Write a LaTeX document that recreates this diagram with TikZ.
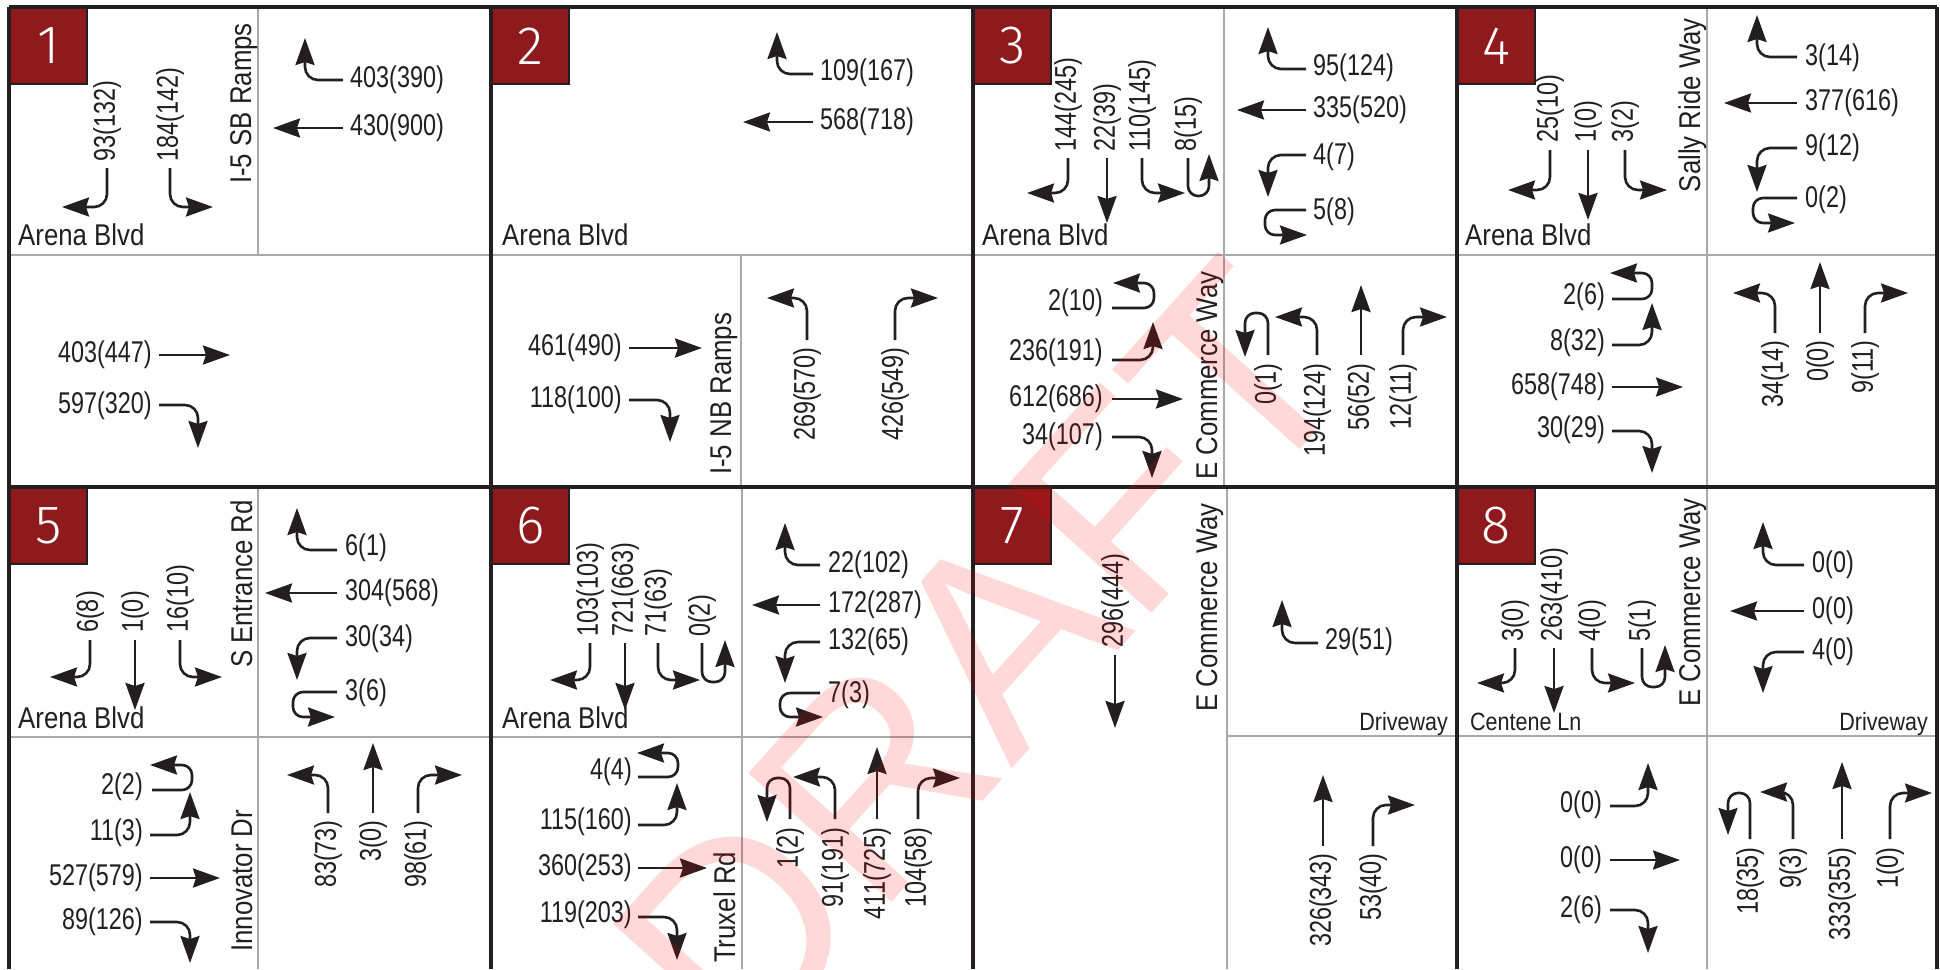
\documentclass[tikz,border=0pt]{standalone}
\usepackage{fontspec}
\usetikzlibrary{arrows.meta}
\newfontfamily\numfam[FakeStretch=0.78]{Liberation Sans}
\newfontfamily\stfam[FakeStretch=0.86]{Liberation Sans}
\newfontfamily\boxfam{Fira Sans Light}
\newfontfamily\wmfam{Liberation Sans}
\definecolor{ink}{HTML}{231F20}
\definecolor{gline}{HTML}{A7A9AC}
\definecolor{boxred}{HTML}{8F1A1D}
\tikzset{
  lbl/.style={font=\numfam\fontsize{30}{34}\selectfont, text=ink, inner sep=0pt},
  vlbl/.style={lbl, rotate=90},
  street/.style={font=\stfam\fontsize{30}{34}\selectfont, text=ink, inner sep=0pt},
  vstreet/.style={street, rotate=90},
  small/.style={font=\stfam\fontsize{25}{29}\selectfont, text=ink, inner sep=0pt},
  mv/.style={draw=ink, line width=2.6pt, rounded corners=13pt, -{Stealth[length=27pt,width=19pt,inset=3pt]}},
  uturn/.style={mv, rounded corners=10pt},
  gl/.style={draw=gline, line width=2.8pt},
  kl/.style={draw=ink, line width=3.5pt},
  numbox/.style={fill=boxred, draw=ink, line width=2pt, minimum width=77pt, minimum height=76pt, anchor=north west, font=\boxfam\fontsize{54}{58}\selectfont, text=white, inner sep=0pt},
  wm/.style={text=red, opacity=0.15, font=\wmfam\fontsize{280}{280}\selectfont, inner sep=0pt},
}
\begin{document}
\begin{tikzpicture}[x=1pt,y=-1pt]
\useasboundingbox (0,0) rectangle (1940,969);
\fill[white] (0,0) rectangle (1940,969);
% ---------- gray street lines ----------
\draw[gl] (258,7) -- (258,255);
\draw[gl] (9,255) -- (491,255);
\draw[gl] (491,255) -- (973,255);
\draw[gl] (741,255) -- (741,487);
\draw[gl] (1224,7) -- (1224,487);
\draw[gl] (973,255) -- (1457,255);
\draw[gl] (1707,7) -- (1707,487);
\draw[gl] (1457,255) -- (1937,255);
\draw[gl] (258,487) -- (258,969);
\draw[gl] (9,737) -- (491,737);
\draw[gl] (742,487) -- (742,969);
\draw[gl] (491,737) -- (973,737);
\draw[gl] (1227,487) -- (1227,969);
\draw[gl] (1227,736) -- (1457,736);
\draw[gl] (1707,487) -- (1707,969);
\draw[gl] (1457,736) -- (1937,736);
% ---------- black panel frame ----------
\draw[kl] (9,7) -- (1937,7);
\draw[kl] (9,487) -- (1937,487);
\draw[kl] (9,7) -- (9,969);
\draw[kl] (491,7) -- (491,969);
\draw[kl] (973,7) -- (973,969);
\draw[kl] (1457,7) -- (1457,969);
\draw[kl] (1937,7) -- (1937,969);
% ---------- number boxes ----------
\node[numbox] (b1) at (9,7) {1};
\node[numbox] (b2) at (491,7) {2};
\node[numbox] (b3) at (973,7) {3};
\node[numbox] (b4) at (1457,7) {4};
\node[numbox] (b5) at (9,487) {5};
\node[numbox] (b6) at (491,487) {6};
\node[numbox] (b7) at (973,487) {7};
\node[numbox] (b8) at (1457,487) {8};
% ================= PANEL 1 =================
\node[street, anchor=base west] (s1a) at (18,245) {Arena Blvd};
\node[vstreet, anchor=base east] (s1b) at (251,23) {I-5 SB Ramps};
\node[vlbl, anchor=west] (p1a) at (107,162) {93(132)};
\node[vlbl, anchor=west] (p1b) at (170,162) {184(142)};
\draw[mv] (107,168) -- (107,207) -- (62,207);
\draw[mv] (170,168) -- (170,207) -- (213,207);
\node[lbl, anchor=west] (p1c) at (350,80) {403(390)};
\node[lbl, anchor=west] (p1d) at (350,128) {430(900)};
\draw[mv] (343,80) -- (305,80) -- (305,38);
\draw[mv] (343,128) -- (273,128);
\node[lbl, anchor=east] (p1e) at (152,355) {403(447)};
\node[lbl, anchor=east] (p1f) at (152,406) {597(320)};
\draw[mv] (159,355) -- (230,355);
\draw[mv] (159,405) -- (198,405) -- (198,448);
% ================= PANEL 2 =================
\node[street, anchor=base west] (s2a) at (502,245) {Arena Blvd};
\node[vstreet, anchor=base west] (s2b) at (731,475) {I-5 NB Ramps};
\node[lbl, anchor=west] (p2a) at (820,73) {109(167)};
\node[lbl, anchor=west] (p2b) at (820,122) {568(718)};
\draw[mv] (813,74) -- (777,74) -- (777,32);
\draw[mv] (813,122) -- (743,122);
\node[lbl, anchor=east] (p2c) at (622,348) {461(490)};
\node[lbl, anchor=east] (p2d) at (622,400) {118(100)};
\draw[mv] (629,348) -- (702,348);
\draw[mv] (629,400) -- (670,400) -- (670,442);
\node[vlbl, anchor=east] (p2e) at (807,347) {269(570)};
\node[vlbl, anchor=east] (p2f) at (895,347) {426(549)};
\draw[mv] (807,340) -- (807,298) -- (767,298);
\draw[mv] (895,340) -- (895,298) -- (938,298);
% ================= PANEL 3 =================
\node[street, anchor=base west] (s3a) at (982,245) {Arena Blvd};
\node[vstreet, anchor=base west] (s3b) at (1217,480) {E Commerce Way};
\node[vlbl, anchor=west] (p3a) at (1068,152) {144(245)};
\node[vlbl, anchor=west] (p3b) at (1107,152) {22(39)};
\node[vlbl, anchor=west] (p3c) at (1142,152) {110(145)};
\node[vlbl, anchor=west] (p3d) at (1188,152) {8(15)};
\draw[mv] (1068,158) -- (1068,193) -- (1027,193);
\draw[mv] (1107,158) -- (1107,223);
\draw[mv] (1142,158) -- (1142,193) -- (1185,193);
\draw[uturn] (1188,158) -- (1188,196) -- (1209,196) -- (1209,154);
\node[lbl, anchor=west] (p3e) at (1313,68) {95(124)};
\node[lbl, anchor=west] (p3f) at (1313,110) {335(520)};
\node[lbl, anchor=west] (p3g) at (1313,157) {4(7)};
\node[lbl, anchor=west] (p3h) at (1313,212) {5(8)};
\draw[mv] (1306,69) -- (1268,69) -- (1268,27);
\draw[mv] (1306,110) -- (1237,110);
\draw[mv] (1306,155) -- (1268,155) -- (1268,197);
\draw[uturn] (1306,210) -- (1265,210) -- (1265,235) -- (1307,235);
\node[lbl, anchor=east] (p3i) at (1103,303) {2(10)};
\node[lbl, anchor=east] (p3j) at (1103,353) {236(191)};
\node[lbl, anchor=east] (p3k) at (1103,399) {612(686)};
\node[lbl, anchor=east] (p3l) at (1103,437) {34(107)};
\draw[uturn] (1112,308) -- (1154,308) -- (1154,283) -- (1113,283);
\draw[mv] (1112,360) -- (1153,360) -- (1153,322);
\draw[mv] (1112,399) -- (1183,399);
\draw[mv] (1112,437) -- (1152,437) -- (1152,478);
\node[vlbl, anchor=east] (p3m) at (1268,363) {0(1)};
\node[vlbl, anchor=east] (p3n) at (1317,363) {194(124)};
\node[vlbl, anchor=east] (p3o) at (1361,363) {56(52)};
\node[vlbl, anchor=east] (p3p) at (1403,363) {12(11)};
\draw[uturn] (1268,355) -- (1268,313) -- (1245,313) -- (1245,357);
\draw[mv] (1317,355) -- (1317,317) -- (1275,317);
\draw[mv] (1361,355) -- (1361,285);
\draw[mv] (1403,355) -- (1403,317) -- (1447,317);
% ================= PANEL 4 =================
\node[street, anchor=base west] (s4a) at (1465,245) {Arena Blvd};
\node[vstreet, anchor=base east] (s4b) at (1700,18) {Sally Ride Way};
\node[vlbl, anchor=west] (p4a) at (1550,143) {25(10)};
\node[vlbl, anchor=west] (p4b) at (1588,143) {1(0)};
\node[vlbl, anchor=west] (p4c) at (1625,143) {3(2)};
\draw[mv] (1550,150) -- (1550,190) -- (1508,190);
\draw[mv] (1588,150) -- (1588,220);
\draw[mv] (1625,150) -- (1625,190) -- (1667,190);
\node[lbl, anchor=west] (p4d) at (1805,58) {3(14)};
\node[lbl, anchor=west] (p4e) at (1805,103) {377(616)};
\node[lbl, anchor=west] (p4f) at (1805,148) {9(12)};
\node[lbl, anchor=west] (p4g) at (1805,200) {0(2)};
\draw[mv] (1797,57) -- (1757,57) -- (1757,15);
\draw[mv] (1797,103) -- (1724,103);
\draw[mv] (1797,148) -- (1757,148) -- (1757,192);
\draw[uturn] (1797,198) -- (1753,198) -- (1753,223) -- (1795,223);
\node[lbl, anchor=east] (p4h) at (1605,297) {2(6)};
\node[lbl, anchor=east] (p4i) at (1605,343) {8(32)};
\node[lbl, anchor=east] (p4j) at (1605,387) {658(748)};
\node[lbl, anchor=east] (p4k) at (1605,430) {30(29)};
\draw[uturn] (1612,299) -- (1652,299) -- (1652,273) -- (1610,273);
\draw[mv] (1612,345) -- (1652,345) -- (1652,303);
\draw[mv] (1612,387) -- (1683,387);
\draw[mv] (1612,431) -- (1652,431) -- (1652,473);
\node[vlbl, anchor=east] (p4l) at (1775,340) {34(14)};
\node[vlbl, anchor=east] (p4m) at (1820,340) {0(0)};
\node[vlbl, anchor=east] (p4n) at (1865,340) {9(11)};
\draw[mv] (1775,333) -- (1775,293) -- (1733,293);
\draw[mv] (1820,333) -- (1820,262);
\draw[mv] (1865,333) -- (1865,293) -- (1908,293);
% ================= PANEL 5 =================
\node[street, anchor=base west] (s5a) at (18,728) {Arena Blvd};
\node[vstreet, anchor=base east] (s5b) at (252,500) {S Entrance Rd};
\node[vstreet, anchor=base west] (s5c) at (252,952) {Innovator Dr};
\node[vlbl, anchor=west] (p5a) at (90,633) {6(8)};
\node[vlbl, anchor=west] (p5b) at (135,633) {1(0)};
\node[vlbl, anchor=west] (p5c) at (180,633) {16(10)};
\draw[mv] (90,640) -- (90,677) -- (50,677);
\draw[mv] (135,640) -- (135,710);
\draw[mv] (180,640) -- (180,677) -- (222,677);
\node[lbl, anchor=west] (p5d) at (345,548) {6(1)};
\node[lbl, anchor=west] (p5e) at (345,593) {304(568)};
\node[lbl, anchor=west] (p5f) at (345,639) {30(34)};
\node[lbl, anchor=west] (p5g) at (345,693) {3(6)};
\draw[mv] (337,550) -- (297,550) -- (297,508);
\draw[mv] (337,593) -- (265,593);
\draw[mv] (337,638) -- (297,638) -- (297,680);
\draw[uturn] (337,692) -- (293,692) -- (293,717) -- (335,717);
\node[lbl, anchor=east] (p5h) at (143,787) {2(2)};
\node[lbl, anchor=east] (p5i) at (143,833) {11(3)};
\node[lbl, anchor=east] (p5j) at (143,878) {527(579)};
\node[lbl, anchor=east] (p5k) at (143,922) {89(126)};
\draw[uturn] (152,790) -- (192,790) -- (192,765) -- (150,765);
\draw[mv] (150,835) -- (190,835) -- (190,792);
\draw[mv] (150,878) -- (220,878);
\draw[mv] (150,922) -- (190,922) -- (190,963);
\node[vlbl, anchor=east] (p5l) at (328,820) {83(73)};
\node[vlbl, anchor=east] (p5m) at (373,820) {3(0)};
\node[vlbl, anchor=east] (p5n) at (418,820) {98(61)};
\draw[mv] (328,813) -- (328,775) -- (287,775);
\draw[mv] (373,813) -- (373,743);
\draw[mv] (418,813) -- (418,775) -- (462,775);
% ================= PANEL 6 =================
\node[street, anchor=base west] (s6a) at (502,728) {Arena Blvd};
\node[vstreet, anchor=base west] (s6b) at (735,963) {Truxel Rd};
\node[vlbl, anchor=west] (p6a) at (590,637) {103(103)};
\node[vlbl, anchor=west] (p6b) at (625,637) {721(663)};
\node[vlbl, anchor=west] (p6c) at (658,637) {71(63)};
\node[vlbl, anchor=west] (p6d) at (702,637) {0(2)};
\draw[mv] (590,643) -- (590,680) -- (550,680);
\draw[mv] (625,643) -- (625,710);
\draw[mv] (658,643) -- (658,680) -- (700,680);
\draw[uturn] (702,643) -- (702,682) -- (725,682) -- (725,640);
\node[lbl, anchor=west] (p6e) at (828,565) {22(102)};
\node[lbl, anchor=west] (p6f) at (828,605) {172(287)};
\node[lbl, anchor=west] (p6g) at (828,642) {132(65)};
\node[lbl, anchor=west] (p6h) at (828,695) {7(3)};
\draw[mv] (820,565) -- (785,565) -- (785,523);
\draw[mv] (820,605) -- (752,605);
\draw[mv] (820,642) -- (785,642) -- (785,683);
\draw[uturn] (820,693) -- (780,693) -- (780,717) -- (823,717);
\node[lbl, anchor=east] (p6i) at (632,772) {4(4)};
\node[lbl, anchor=east] (p6j) at (632,822) {115(160)};
\node[lbl, anchor=east] (p6k) at (632,868) {360(253)};
\node[lbl, anchor=east] (p6l) at (632,915) {119(203)};
\draw[uturn] (638,777) -- (678,777) -- (678,753) -- (637,753);
\draw[mv] (638,825) -- (677,825) -- (677,783);
\draw[mv] (638,868) -- (707,868);
\draw[mv] (638,917) -- (677,917) -- (677,960);
\node[vlbl, anchor=east] (p6m) at (790,827) {1(2)};
\node[vlbl, anchor=east] (p6n) at (835,827) {91(191)};
\node[vlbl, anchor=east] (p6o) at (877,827) {411(725)};
\node[vlbl, anchor=east] (p6p) at (918,827) {104(58)};
\draw[uturn] (790,819) -- (790,778) -- (767,778) -- (767,822);
\draw[mv] (835,819) -- (835,777) -- (793,777);
\draw[mv] (877,819) -- (877,747);
\draw[mv] (918,819) -- (918,778) -- (960,778);
% ================= PANEL 7 =================
\node[vstreet, anchor=base east] (s7a) at (1217,503) {E Commerce Way};
\node[small, anchor=base east] (s7b) at (1448,730) {Driveway};
\node[vlbl, anchor=west] (p7a) at (1115,648) {296(444)};
\draw[mv] (1115,655) -- (1115,728);
\node[lbl, anchor=west] (p7b) at (1325,642) {29(51)};
\draw[mv] (1318,643) -- (1282,643) -- (1282,600);
\node[vlbl, anchor=east] (p7c) at (1323,853) {326(343)};
\node[vlbl, anchor=east] (p7d) at (1373,853) {53(40)};
\draw[mv] (1323,846) -- (1323,775);
\draw[mv] (1373,846) -- (1373,805) -- (1415,805);
% ================= PANEL 8 =================
\node[small, anchor=base west] (s8a) at (1470,730) {Centene Ln};
\node[small, anchor=base east] (s8b) at (1928,730) {Driveway};
\node[vstreet, anchor=base east] (s8c) at (1700,498) {E Commerce Way};
\node[vlbl, anchor=west] (p8a) at (1515,642) {3(0)};
\node[vlbl, anchor=west] (p8b) at (1554,642) {263(410)};
\node[vlbl, anchor=west] (p8c) at (1592,642) {4(0)};
\node[vlbl, anchor=west] (p8d) at (1642,642) {5(1)};
\draw[mv] (1515,648) -- (1515,683) -- (1477,683);
\draw[mv] (1554,648) -- (1554,713);
\draw[mv] (1592,648) -- (1592,683) -- (1635,683);
\draw[uturn] (1642,648) -- (1642,687) -- (1665,687) -- (1665,645);
\node[lbl, anchor=west] (p8e) at (1812,565) {0(0)};
\node[lbl, anchor=west] (p8f) at (1812,611) {0(0)};
\node[lbl, anchor=west] (p8g) at (1812,652) {4(0)};
\draw[mv] (1804,565) -- (1763,565) -- (1763,522);
\draw[mv] (1804,611) -- (1730,611);
\draw[mv] (1804,652) -- (1763,652) -- (1763,693);
\node[lbl, anchor=east] (p8h) at (1602,805) {0(0)};
\node[lbl, anchor=east] (p8i) at (1602,860) {0(0)};
\node[lbl, anchor=east] (p8j) at (1602,910) {2(6)};
\draw[mv] (1610,806) -- (1648,806) -- (1648,763);
\draw[mv] (1610,860) -- (1680,860);
\draw[mv] (1610,910) -- (1648,910) -- (1648,953);
\node[vlbl, anchor=east] (p8k) at (1750,847) {18(35)};
\node[vlbl, anchor=east] (p8l) at (1793,847) {9(3)};
\node[vlbl, anchor=east] (p8m) at (1842,847) {333(355)};
\node[vlbl, anchor=east] (p8n) at (1890,847) {1(0)};
\draw[uturn] (1750,839) -- (1750,793) -- (1728,793) -- (1728,835);
\draw[mv] (1793,839) -- (1793,792) -- (1760,792);
\draw[mv] (1842,839) -- (1842,762);
\draw[mv] (1890,839) -- (1890,793) -- (1932,793);
% ---------- watermark ----------
\node[wm, rotate=48] (draft) at (982,659) {DRAFT};
\end{tikzpicture}
\end{document}
